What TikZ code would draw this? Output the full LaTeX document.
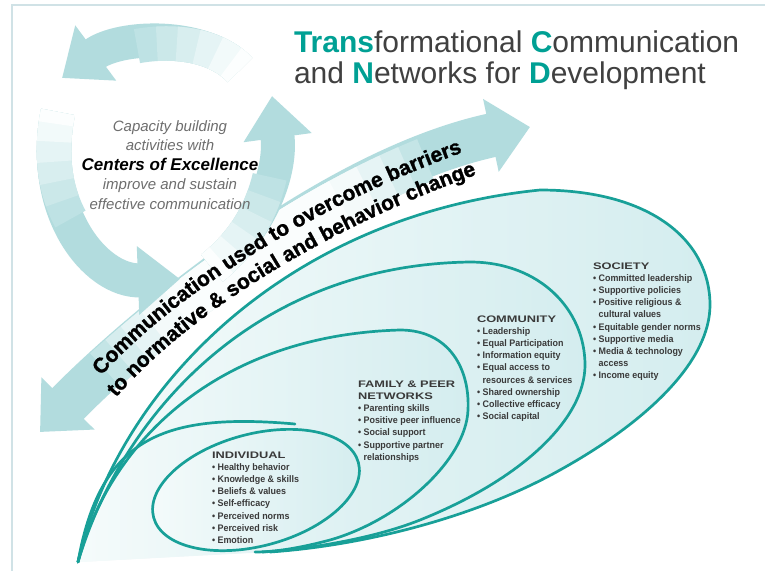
\documentclass[tikz,border=0pt]{standalone}
\usepackage{fontspec}
\setmainfont{Liberation Sans}
\newfontfamily\headfont{Liberation Sans}[FakeStretch=1.35]
\newfontfamily\itemfont{Liberation Sans}[FakeStretch=0.94]
\newfontfamily\commfont{Liberation Sans}[FakeBold=1.3]
\usetikzlibrary{arrows.meta,decorations.text}

\definecolor{c00a094}{RGB}{0,160,148}
\definecolor{c404040}{RGB}{64,64,64}
\definecolor{c18a098}{RGB}{24,160,152}
\definecolor{cb2dcde}{RGB}{178,220,222}
\definecolor{cbee2e4}{RGB}{190,226,228}
\definecolor{ccbe8e9}{RGB}{203,232,233}
\definecolor{cd8eeef}{RGB}{216,238,239}
\definecolor{ce5f4f5}{RGB}{229,244,245}
\definecolor{cf2fafa}{RGB}{242,250,250}
\definecolor{cfcfefe}{RGB}{252,254,254}
\definecolor{cc4e5e6}{RGB}{196,229,230}
\definecolor{cd6edee}{RGB}{214,237,238}
\definecolor{ce6f4f5}{RGB}{230,244,245}
\definecolor{cf4fafa}{RGB}{244,250,250}
\definecolor{cfafdfd}{RGB}{250,253,253}
\definecolor{cd4edef}{RGB}{212,237,239}
\definecolor{cf5fbfb}{RGB}{245,251,251}
\definecolor{cd0e2e6}{RGB}{208,226,230}
\definecolor{c3a3a3a}{RGB}{58,58,58}
\definecolor{c6e6e6e}{RGB}{110,110,110}
\def \globalscale {1.000000}

\begin{document}
\begin{tikzpicture}[y=-1pt, x=1pt, yscale=\globalscale, xscale=\globalscale, every node/.append style={scale=\globalscale}, inner sep=0pt, outer sep=0pt,
  loopline/.style={draw=c18a098, line width=0.95mm, line cap=round, line join=round},
  loopfill/.style={left color=cf5fbfb, right color=cd4edef},
  cyclearrow/.style={draw=cb2dcde, line width=34pt, -{Triangle[length=42pt,width=66pt]}},
  cyclefade/.style={line width=34.5pt},
  bandfade/.style={line width=44.5pt},
  listtext/.style={text=c3a3a3a, align=left, anchor=north west, font=\itemfont\bfseries\fontsize{9.5}{12.2}\selectfont}]
  \useasboundingbox (0,0) rectangle (765,571);
  \path[fill=white] (0,0) rectangle (765,571);



  \path[draw=cd0e2e6, line width=0.5mm] (12,571) -- (12,5) -- (765,5);



  % big two-headed band
  \path[draw=cb2dcde, line width=44pt, {Triangle[length=40pt,width=72pt]}-{Triangle[length=40pt,width=72pt]}] (40,432) .. controls (140,330) and (330,170) .. (530,127);
  \path[bandfade, draw=cc4e5e6, dash pattern=on 0pt off 90pt on 385pt off 3000pt] (40,432) .. controls (140,330) and (330,170) .. (530,127);
  \path[bandfade, draw=cd6edee, dash pattern=on 0pt off 110pt on 345pt off 3000pt] (40,432) .. controls (140,330) and (330,170) .. (530,127);
  \path[bandfade, draw=ce6f4f5, dash pattern=on 0pt off 130pt on 305pt off 3000pt] (40,432) .. controls (140,330) and (330,170) .. (530,127);
  \path[bandfade, draw=cf4fafa, dash pattern=on 0pt off 155pt on 255pt off 3000pt] (40,432) .. controls (140,330) and (330,170) .. (530,127);
  \path[bandfade, draw=cfafdfd, dash pattern=on 0pt off 185pt on 195pt off 3000pt] (40,432) .. controls (140,330) and (330,170) .. (530,127);



  % cycle of arrows
  \path[cyclearrow] (240,70) .. controls (205,32) and (120,35) .. (62,78);
  \path[cyclefade, draw=cbee2e4, dash pattern=on 110pt off 2000pt] (240,70) .. controls (205,32) and (120,35) .. (62,78);
  \path[cyclefade, draw=ccbe8e9, dash pattern=on 90pt off 2000pt] (240,70) .. controls (205,32) and (120,35) .. (62,78);
  \path[cyclefade, draw=cd8eeef, dash pattern=on 70pt off 2000pt] (240,70) .. controls (205,32) and (120,35) .. (62,78);
  \path[cyclefade, draw=ce5f4f5, dash pattern=on 50pt off 2000pt] (240,70) .. controls (205,32) and (120,35) .. (62,78);
  \path[cyclefade, draw=cf2fafa, dash pattern=on 30pt off 2000pt] (240,70) .. controls (205,32) and (120,35) .. (62,78);
  \path[cyclefade, draw=cfcfefe, dash pattern=on 12pt off 2000pt] (240,70) .. controls (205,32) and (120,35) .. (62,78);

  \path[cyclearrow] (212,268) .. controls (262,228) and (282,170) .. (272,96);
  \path[cyclefade, draw=cbee2e4, dash pattern=on 110pt off 2000pt] (212,268) .. controls (262,228) and (282,170) .. (272,96);
  \path[cyclefade, draw=ccbe8e9, dash pattern=on 90pt off 2000pt] (212,268) .. controls (262,228) and (282,170) .. (272,96);
  \path[cyclefade, draw=cd8eeef, dash pattern=on 70pt off 2000pt] (212,268) .. controls (262,228) and (282,170) .. (272,96);
  \path[cyclefade, draw=ce5f4f5, dash pattern=on 50pt off 2000pt] (212,268) .. controls (262,228) and (282,170) .. (272,96);
  \path[cyclefade, draw=cf2fafa, dash pattern=on 30pt off 2000pt] (212,268) .. controls (262,228) and (282,170) .. (272,96);
  \path[cyclefade, draw=cfcfefe, dash pattern=on 12pt off 2000pt] (212,268) .. controls (262,228) and (282,170) .. (272,96);

  \path[cyclearrow] (58,112) .. controls (38,210) and (95,282) .. (180,279);
  \path[cyclefade, draw=cbee2e4, dash pattern=on 110pt off 2000pt] (58,112) .. controls (38,210) and (95,282) .. (180,279);
  \path[cyclefade, draw=ccbe8e9, dash pattern=on 90pt off 2000pt] (58,112) .. controls (38,210) and (95,282) .. (180,279);
  \path[cyclefade, draw=cd8eeef, dash pattern=on 70pt off 2000pt] (58,112) .. controls (38,210) and (95,282) .. (180,279);
  \path[cyclefade, draw=ce5f4f5, dash pattern=on 50pt off 2000pt] (58,112) .. controls (38,210) and (95,282) .. (180,279);
  \path[cyclefade, draw=cf2fafa, dash pattern=on 30pt off 2000pt] (58,112) .. controls (38,210) and (95,282) .. (180,279);
  \path[cyclefade, draw=cfcfefe, dash pattern=on 12pt off 2000pt] (58,112) .. controls (38,210) and (95,282) .. (180,279);



  % loops
  \path[loopfill] (78,562) .. controls (118,385) and (290,215) .. (540,190) .. controls (650,190) and (710,240) .. (710,305) .. controls (710,360) and (650,420) .. (560,470) .. controls (480,515) and (370,545) .. (270,552) -- cycle;
  \path[loopfill] (78,562) .. controls (120,420) and (250,265) .. (470,262) .. controls (540,262) and (585,310) .. (585,365) .. controls (585,420) and (520,480) .. (420,520) .. controls (370,540) and (300,550) .. (262,552) -- cycle;
  \path[loopfill] (78,562) .. controls (110,440) and (220,335) .. (400,330) .. controls (450,330) and (470,370) .. (468,410) .. controls (466,460) and (400,520) .. (330,540) .. controls (300,548) and (275,552) .. (255,552) -- cycle;
  \path[loopfill, rotate around={15:(256,490)}] (256,490) ellipse [x radius=106, y radius=56];



  \path[loopline] (78,562) .. controls (118,385) and (290,215) .. (540,190) .. controls (650,190) and (710,240) .. (710,305) .. controls (710,360) and (650,420) .. (560,470) .. controls (480,515) and (370,545) .. (270,552);
  \path[loopline] (78,562) .. controls (120,420) and (250,265) .. (470,262) .. controls (540,262) and (585,310) .. (585,365) .. controls (585,420) and (520,480) .. (420,520) .. controls (370,540) and (300,550) .. (262,552);
  \path[loopline] (78,562) .. controls (110,440) and (220,335) .. (400,330) .. controls (450,330) and (470,370) .. (468,410) .. controls (466,460) and (400,520) .. (330,540) .. controls (300,548) and (275,552) .. (255,552);
  \path[loopline] (78,562) .. controls (100,440) and (160,412) .. (295,424);
  \path[loopline, rotate around={15:(256,490)}] (256,490) ellipse [x radius=106, y radius=56];



  % text on the band
  \path[decorate, decoration={text along path, text align=center, text color=black,
    text={|\commfont\bfseries\fontsize{21}{24}\selectfont|Communication used to overcome barriers}}]
    (79,401) -- (102,375) .. controls (175,293) and (320,204) .. (461,153) -- (494,141);
  \path[decorate, decoration={text along path, text align=center, text color=black,
    text={|\commfont\bfseries\fontsize{21}{24}\selectfont|to normative {\&} social and behavior change}}]
    (97,418) -- (121,392) .. controls (194,310) and (329,228) .. (470,177) -- (503,165);



  \node[text=c404040, anchor=base west, font=\fontsize{30}{31}\selectfont] (text101) at (294,52) {\textcolor{c00a094}{\textbf{Trans}}formational \textcolor{c00a094}{\textbf{C}}ommunication};
  \node[text=c404040, anchor=base west, font=\fontsize{30}{31}\selectfont] (text102) at (294,83) {and \textcolor{c00a094}{\textbf{N}}etworks for \textcolor{c00a094}{\textbf{D}}evelopment};



  \node[text=c6e6e6e, align=center, font=\itshape\fontsize{15}{19.5}\selectfont] (text103) at (170,165) {Capacity building\\activities with\\{\color{black}\bfseries\fontsize{17}{19.5}\selectfont Centers of Excellence}\\improve and sustain\\effective communication};



  \node[listtext] (text104) at (593,262.5) {{\headfont\bfseries SOCIETY}\\• Committed leadership\\• Supportive policies\\• Positive religious \&\\\phantom{• }cultural values\\• Equitable gender norms\\• Supportive media\\• Media \& technology\\\phantom{• }access\\• Income equity};



  \node[listtext] (text105) at (477,315.5) {{\headfont\bfseries COMMUNITY}\\• Leadership\\• Equal Participation\\• Information equity\\• Equal access to\\\phantom{• }resources \& services\\• Shared ownership\\• Collective efficacy\\• Social capital};



  \node[listtext] (text106) at (358,380.5) {{\headfont\bfseries FAMILY \& PEER}\\{\headfont\bfseries NETWORKS}\\• Parenting skills\\• Positive peer influence\\• Social support\\• Supportive partner\\\phantom{• }relationships};



  \node[listtext] (text107) at (212,451.5) {{\headfont\bfseries INDIVIDUAL}\\• Healthy behavior\\• Knowledge \& skills\\• Beliefs \& values\\• Self-efficacy\\• Perceived norms\\• Perceived risk\\• Emotion};




\end{tikzpicture}
\end{document}
